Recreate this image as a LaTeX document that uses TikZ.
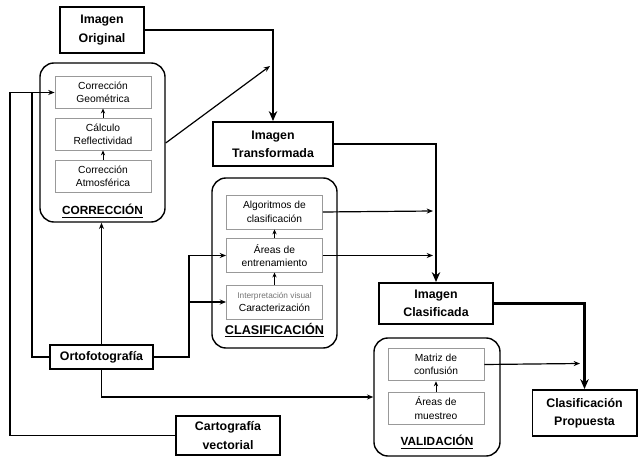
\documentclass[tikz,border=0pt]{standalone}
\usepackage{fontspec}
\setmainfont{Liberation Sans}
\usetikzlibrary{arrows.meta,positioning,calc}
\tikzset{>={Stealth[length=4.5pt,width=3.6pt]}}
\tikzset{
    mainbox/.style={rectangle,draw,line width=1.4pt,align=center,inner sep=0pt,font=\fontsize{8.8}{13}\selectfont\bfseries},
    groupbox/.style={rectangle,draw,rounded corners=10pt,line width=1pt,inner sep=0pt},
    innerbox/.style={rectangle,draw=black!40,line width=0.6pt,align=center,inner sep=0pt,minimum width=2.4cm,font=\fontsize{7.3}{9.5}\selectfont},
    grouplabel/.style={inner sep=0pt,font=\fontsize{8.4}{10}\selectfont\bfseries},
    flow/.style={->,line width=0.85pt},
    smallflow/.style={-{Stealth[length=3.5pt,width=3pt]},line width=0.7pt},
    mainflow/.style={-{Stealth[length=7pt,width=6pt]},line width=2pt},
}
\begin{document}
\begin{tikzpicture}[x=0.025cm,y=-0.025cm]
    \useasboundingbox (0,0) rectangle (639,458);

    % grupos
    \node[groupbox,minimum width=3.125cm,minimum height=3.975cm] (corr) at (102.5,142.5) {};
    \node[groupbox,minimum width=3.125cm,minimum height=4.25cm] (clas) at (274.5,263) {};
    \node[groupbox,minimum width=3.15cm,minimum height=2.95cm] (vali) at (437,397) {};
    \node[grouplabel] (corrlabel) at (102.5,211) {\underline{CORRECCIÓN}};
    \node[grouplabel,font=\fontsize{9}{10}\selectfont\bfseries] (claslabel) at (274.5,330) {\underline{CLASIFICACIÓN}};
    \node[grouplabel] (valilabel) at (437,442) {\underline{VALIDACIÓN}};

    % cajas principales
    \node[mainbox,minimum width=2.1cm,minimum height=1.15cm] (orig) at (102,30) {Imagen\\Original};
    \node[mainbox,minimum width=3cm,minimum height=1.1cm] (trans) at (273,144) {Imagen\\Transformada};
    \node[mainbox,minimum width=2.85cm,minimum height=1.025cm] (clasif) at (436,303.5) {Imagen\\Clasificada};
    \node[mainbox,minimum width=2.6cm,minimum height=1.15cm] (prop) at (584.5,413) {Clasificación\\Propuesta};
    \node[mainbox,minimum width=2.575cm,minimum height=0.6cm] (orto) at (101.5,357) {Ortofotografía};
    \node[mainbox,minimum width=2.6cm,minimum height=0.975cm] (carto) at (228,435.5) {Cartografía\\vectorial};

    % pasos
    \node[innerbox,minimum height=0.78cm] (geo) at (103,92.5) {Corrección\\Geométrica};
    \node[innerbox,minimum height=0.8cm] (refl) at (103,134) {Cálculo\\Reflectividad};
    \node[innerbox,minimum height=0.82cm] (atm) at (103,176.5) {Corrección\\Atmosférica};
    \node[innerbox,minimum height=0.85cm] (alg) at (274.5,212) {Algoritmos de\\clasificación};
    \node[innerbox,minimum height=0.83cm] (ent) at (274.5,255.5) {Áreas de\\entrenamiento};
    \node[innerbox,minimum height=0.85cm] (car) at (274.5,302) {{\fontsize{5.9}{7}\selectfont\color{black!55}Interpretación visual}\\Caracterización};
    \node[innerbox,minimum height=0.82cm] (mat) at (436,364.5) {Matriz de\\confusión};
    \node[innerbox,minimum height=0.8cm] (mue) at (436,408) {Áreas de\\muestreo};

    \coordinate (reflin) at (270,66);
    \coordinate (algin) at (433,211);
    \coordinate (entin) at (433,255.5);
    \coordinate (matin) at (580,363.5);
    \coordinate (cartoleft) at (10,92.5);
    \coordinate (ortoleft) at (32,92.5);
    \coordinate (ortoright) at (189,357);

    \draw[mainflow] (orig.east) -| (trans.north);
    \draw[mainflow] (trans.east) -| (clasif.north);
    \draw[mainflow] (clasif.east) -| (prop.north);

    \draw[flow] ($(corr.east |- refl)+(0,9)$) -- (reflin);
    \draw[smallflow] (atm) -- (refl);
    \draw[smallflow] (refl) -- (geo);
    \draw[smallflow] (car) -- (ent);
    \draw[smallflow] (ent) -- (alg);
    \draw[smallflow] (mue) -- (mat);
    \draw[flow] (alg.east) -- (algin);
    \draw[flow] (ent.east) -- (entin);
    \draw[flow] (mat.east) -- (matin);

    \draw[flow] (carto.west) -| (cartoleft) -- (geo.west);
    \draw[line width=0.85pt] (orto.west) -| (ortoleft);
    \draw[flow] (orto.north) -- (orto.north |- corr.south);
    \draw[flow] (orto.east) -- (ortoright) |- (ent.west);
    \draw[flow] (ortoright) |- (car.west);
    \draw[flow] (orto.south) |- (vali.west);
\end{tikzpicture}
\end{document}
